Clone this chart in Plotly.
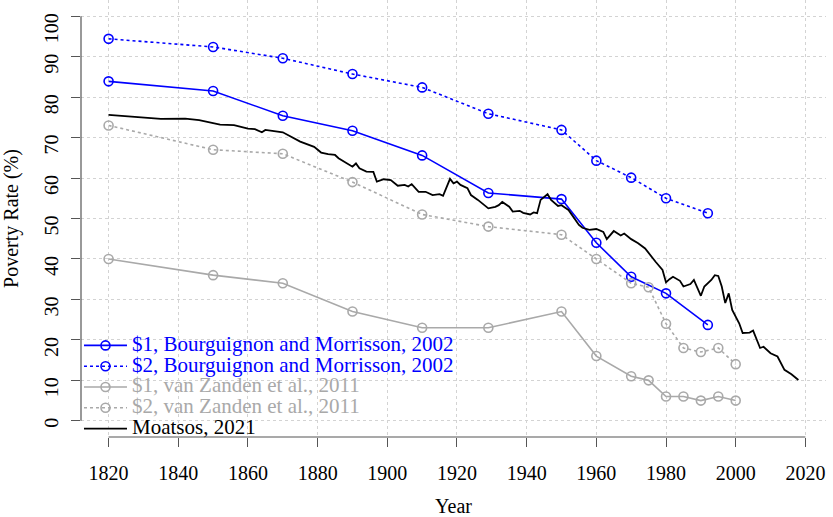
import plotly.graph_objects as go

# ---------------- data ----------------
bm_years = [1820, 1850, 1870, 1890, 1910, 1929, 1950, 1960, 1970, 1980, 1992]
bm_1 = [83.9, 81.5, 75.4, 71.7, 65.6, 56.3, 54.8, 44.0, 35.6, 31.5, 23.7]
bm_2 = [94.4, 92.4, 89.6, 85.7, 82.4, 75.9, 71.9, 64.3, 60.1, 55.0, 51.3]

vz_years = [1820, 1850, 1870, 1890, 1910, 1929, 1950, 1960, 1970, 1975, 1980, 1985, 1990, 1995, 2000]
vz_1 = [40, 36, 34, 27, 23, 23, 27, 16, 11, 10, 6, 6, 5, 6, 5]
vz_2 = [73, 67, 66, 59, 51, 48, 46, 40, 34, 33, 24, 18, 17, 18, 14]

mo_years = [1820, 1827, 1835, 1842, 1846, 1852, 1856, 1860, 1862, 1864, 1865, 1870,
            1875, 1879, 1881, 1883, 1885, 1886, 1889, 1890, 1891, 1892, 1894, 1896,
            1897, 1899, 1901, 1903, 1905, 1906, 1907, 1909, 1911, 1913, 1915, 1916,
            1918, 1919, 1920, 1921, 1923, 1924, 1926, 1928, 1929, 1931, 1932, 1933,
            1935, 1936, 1938, 1939, 1941, 1942, 1943, 1944, 1946, 1947, 1949, 1950,
            1952, 1953, 1955, 1956, 1958, 1960, 1962, 1963, 1965, 1967, 1968, 1970,
            1972, 1974, 1975, 1977, 1979, 1980, 1981, 1982, 1984, 1985, 1987, 1988,
            1990, 1991, 1993, 1994, 1995, 1996, 1997, 1998, 1999, 2001, 2002, 2004,
            2005, 2006, 2007, 2008, 2009, 2010, 2012, 2014, 2016, 2018]
mo_vals = [75.6, 75.1, 74.6, 74.7, 74.3, 73.2, 73.1, 72.2, 72.1, 71.3, 71.9, 71.3,
           69.0, 67.7, 66.3, 65.9, 65.7, 64.9, 63.2, 62.8, 63.6, 62.4, 61.6, 61.5,
           59.1, 59.7, 59.5, 58.1, 58.3, 57.9, 58.5, 56.6, 56.6, 55.8, 56.0, 55.6,
           59.8, 58.7, 59.1, 58.3, 57.5, 55.8, 54.6, 53.3, 52.5, 52.9, 53.3, 54.1,
           52.9, 51.7, 51.9, 51.4, 51.0, 51.5, 51.3, 54.6, 56.0, 54.6, 53.1, 53.3,
           52.1, 50.9, 48.4, 47.7, 47.2, 47.4, 46.7, 44.9, 46.9, 45.8, 46.3, 44.9,
           43.9, 42.6, 41.4, 39.3, 37.3, 34.2, 35.0, 35.6, 34.6, 33.2, 33.8, 34.8,
           30.9, 33.2, 34.8, 36.0, 35.8, 33.2, 29.1, 31.5, 27.4, 24.1, 21.7, 21.8,
           22.3, 20.0, 18.0, 18.3, 17.5, 16.7, 15.9, 12.6, 11.5, 10.1]

x_ticks = [1820, 1840, 1860, 1880, 1900, 1920, 1940, 1960, 1980, 2000, 2020]
y_ticks = [0, 10, 20, 30, 40, 50, 60, 70, 80, 90, 100]

names = ["$1, Bourguignon and Morrisson, 2002",
         "$2, Bourguignon and Morrisson, 2002",
         "$1, van Zanden et al., 2011",
         "$2, van Zanden et al., 2011",
         "Moatsos, 2021"]

BLUE = "#0000FF"
GRAY = "#A9A9A9"
FONT = "Liberation Serif"


def lname(text, color):
    return f'<span style="font-size:21px;color:{color}">{text}</span>'


fig = go.Figure()
marker_style = lambda c: dict(symbol="circle-open", size=9, color=c, line=dict(width=1.6, color=c))

fig.add_trace(go.Scatter(x=bm_years, y=bm_1, mode="lines+markers", name=lname(names[0], BLUE),
                         line=dict(color=BLUE, width=1.6), marker=marker_style(BLUE)))
fig.add_trace(go.Scatter(x=bm_years, y=bm_2, mode="lines+markers", name=lname(names[1], BLUE),
                         line=dict(color=BLUE, width=1.6, dash="dot"), marker=marker_style(BLUE)))
fig.add_trace(go.Scatter(x=vz_years, y=vz_1, mode="lines+markers", name=lname(names[2], GRAY),
                         line=dict(color=GRAY, width=1.6), marker=marker_style(GRAY)))
fig.add_trace(go.Scatter(x=vz_years, y=vz_2, mode="lines+markers", name=lname(names[3], GRAY),
                         line=dict(color=GRAY, width=1.6, dash="dot"), marker=marker_style(GRAY)))
fig.add_trace(go.Scatter(x=mo_years, y=mo_vals, mode="lines", name=lname(names[4], "#000000"),
                         line=dict(color="#000000", width=1.8)))

AXCOL = "#555555"
fig.update_layout(
    width=833, height=517,
    margin=dict(l=81, r=7, t=0, b=80, autoexpand=False),
    plot_bgcolor="white", paper_bgcolor="white",
    font=dict(family=FONT, size=20, color="black"),
    showlegend=True,
    legend=dict(x=-0.0027, y=0.2449, xanchor="left", yanchor="top",
                font=dict(family=FONT, size=13.7),
                bgcolor="rgba(0,0,0,0)", borderwidth=0,
                itemwidth=43, tracegroupgap=0),
    xaxis=dict(range=[1812.08, 2025.92], tickvals=x_ticks, ticktext=[str(v) for v in x_ticks],
               automargin=False,
               showline=False, zeroline=False, ticks="outside", ticklen=9, tickwidth=1.2,
               tickcolor=AXCOL, showgrid=True, gridcolor="#D3D3D3", griddash="dot", gridwidth=1,
               tickfont=dict(family=FONT, size=20), ticklabelstandoff=9,
               title=dict(text="Year", font=dict(family=FONT, size=20), standoff=20)),
    yaxis=dict(range=[-4, 104], tickvals=y_ticks, ticktext=[str(v) for v in y_ticks],
               automargin=False,
               showline=False, zeroline=False, ticks="outside", ticklen=9, tickwidth=1.2,
               tickcolor=AXCOL, showgrid=True, gridcolor="#D3D3D3", griddash="dot", gridwidth=1,
               tickangle=-89.9, tickfont=dict(family=FONT, size=20), ticklabelstandoff=19,
               title=dict(text="Poverty Rate (%)", font=dict(family=FONT, size=20), standoff=20)),
    shapes=[
        dict(type="line", xref="x", yref="paper", x0=x_ticks[0], x1=x_ticks[-1], y0=0, y1=0,
             line=dict(color=AXCOL, width=1.2)),
        dict(type="line", xref="paper", yref="y", x0=0, x1=0, y0=y_ticks[0], y1=y_ticks[-1],
             line=dict(color=AXCOL, width=1.2)),
    ],
)

fig.write_html("out.html", config={"displayModeBar": False},
               post_script="document.body.style.margin='0px';")
